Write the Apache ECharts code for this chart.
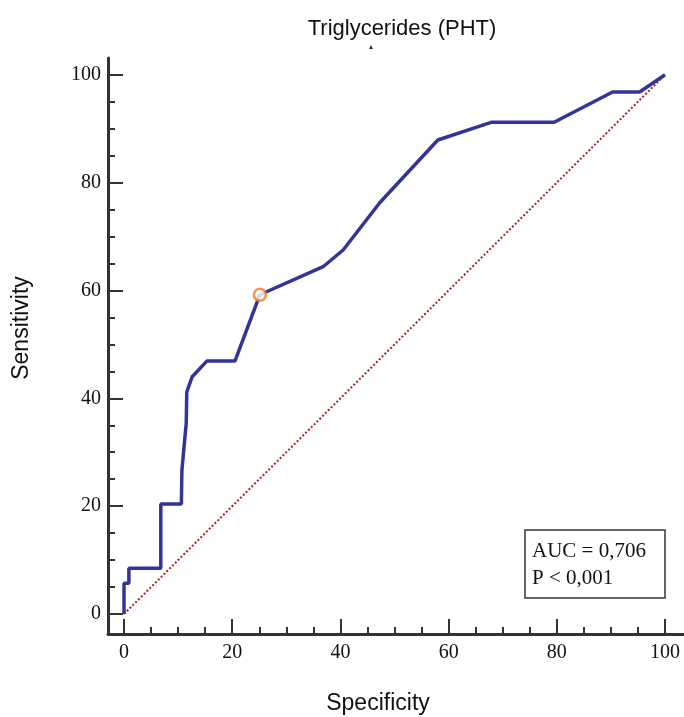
<!DOCTYPE html>
<html>
<head>
<meta charset="utf-8">
<script src="https://cdn.jsdelivr.net/npm/echarts@6/dist/echarts.min.js"></script>
<style>
html,body{margin:0;padding:0;background:#fff;}
#chart{width:684px;height:717px;}
</style>
</head>
<body>
<div id="chart"></div>
<script>
// ROC curve points: [Specificity axis value, Sensitivity]
const rocX = [0, 0, 0.9, 0.9, 6.8, 6.8, 10.6, 10.7, 11.5, 11.6, 12.6, 15.3, 20.5, 25.1, 36.8, 40.5, 47.3, 58.0, 68.0, 79.5, 90.3, 95.3, 100];
const rocY = [0, 5.7, 5.7, 8.5, 8.5, 20.4, 20.4, 26.7, 35.4, 41.2, 44.0, 46.9, 46.9, 59.2, 64.4, 67.5, 76.3, 87.9, 91.2, 91.2, 96.8, 96.8, 100];
const cutoffPoint = [25.1, 59.2];
const diagX = [0, 100];
const diagY = [0, 100];
const majorTicks = [0, 20, 40, 60, 80, 100];
const minorTicks = [5, 10, 15, 25, 30, 35, 45, 50, 55, 65, 70, 75, 85, 90, 95];
const titleText = 'Triglycerides (PHT)';
const xName = 'Specificity';
const yName = 'Sensitivity';
const aucText = ['AUC = 0,706', 'P < 0,001'];

const rocData = rocX.map((x, i) => [x, rocY[i]]);
const diagData = diagX.map((x, i) => [x, diagY[i]]);

const chart = echarts.init(document.getElementById('chart'));
const axisColor = '#333333';
const serif = 'Liberation Serif';
const sans = 'Liberation Sans';

const xMin = -2.96, xMax = 103.5, yMin = -3.7, yMax = 103.1;

function xAxisCfg(major) {
  return {
    type: 'value', min: xMin, max: xMax,
    splitLine: {show: false},
    axisLine: {show: major, onZero: false, lineStyle: {color: axisColor, width: 3}},
    axisTick: {show: true, inside: true, length: major ? 15 : 7, customValues: major ? majorTicks : minorTicks,
      lineStyle: {color: axisColor, width: 2}},
    axisLabel: {show: major, customValues: majorTicks, margin: 9, color: '#111',
      fontFamily: serif, fontSize: 20},
    position: 'bottom'
  };
}
function yAxisCfg(major) {
  return {
    type: 'value', min: yMin, max: yMax,
    splitLine: {show: false},
    axisLine: {show: major, onZero: false, lineStyle: {color: axisColor, width: 3}},
    axisTick: {show: true, inside: true, length: major ? 15 : 7, customValues: major ? majorTicks : minorTicks,
      lineStyle: {color: axisColor, width: 2}},
    axisLabel: {show: major, customValues: majorTicks, margin: 7, color: '#111',
      fontFamily: serif, fontSize: 20},
    position: 'left'
  };
}

chart.setOption({
  animation: false,
  backgroundColor: '#fff',
  title: {
    text: titleText, left: 397, top: 13, textAlign: 'center',
    textStyle: {fontFamily: sans, fontSize: 22, fontWeight: 'normal', color: '#111'}
  },
  grid: {left: 108, right: 0, top: 58, bottom: 83},
  xAxis: [xAxisCfg(true), xAxisCfg(false)],
  yAxis: [yAxisCfg(true), yAxisCfg(false)],
  graphic: [
    {type: 'text', x: 371, y: 47, style: {text: '▲', fontSize: 7, fill: '#333', align: 'center', verticalAlign: 'middle'}},
    {type: 'text', x: 22, y: 328, rotation: Math.PI / 2, style: {text: yName, fontFamily: sans, fontSize: 23, fill: '#111', align: 'center', verticalAlign: 'middle'}},
    {type: 'text', x: 378, y: 704, style: {text: xName, fontFamily: sans, fontSize: 23, fill: '#111', align: 'center', verticalAlign: 'middle'}},
    {type: 'rect', shape: {x: 525, y: 530, width: 140, height: 68}, style: {fill: '#fff', stroke: '#333', lineWidth: 1.5}},
    {type: 'text', x: 532, y: 551, style: {text: aucText[0], fontFamily: serif, fontSize: 21, fill: '#111', verticalAlign: 'middle'}},
    {type: 'text', x: 532, y: 578, style: {text: aucText[1], fontFamily: serif, fontSize: 21, fill: '#111', verticalAlign: 'middle'}}
  ],
  series: [
    {
      type: 'line', data: diagData, showSymbol: false, silent: true,
      lineStyle: {color: '#9a2a22', width: 2, type: [2, 2]}
    },
    {
      type: 'line', data: rocData, showSymbol: false, silent: true,
      lineStyle: {color: '#33349a', width: 3.5}
    },
    {
      type: 'scatter', data: [cutoffPoint], symbol: 'circle', symbolSize: 12,
      itemStyle: {color: '#fff', borderColor: '#f07a28', borderWidth: 2.5}, z: 5
    }
  ]
});
</script>
</body>
</html>
